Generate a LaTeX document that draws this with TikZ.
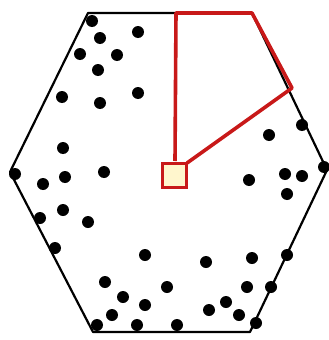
\documentclass[tikz,border=0pt]{standalone}
\definecolor{cellred}{RGB}{200,25,25}
\definecolor{cellfill}{RGB}{255,246,205}

\begin{document}
\begin{tikzpicture}[x=1pt,y=-1pt]
    \useasboundingbox (0,0) rectangle (329,340);
    % hexagon corners
    \coordinate (L) at (10,172);
    \coordinate (TL) at (88,13);
    \coordinate (TR) at (252,13);
    \coordinate (R) at (327,170);
    \coordinate (BR) at (250,332);
    \coordinate (BL) at (93,332);
    \coordinate (P) at (176,13);
    \coordinate (Q) at (292,88);
    \draw[line width=2.2pt, line join=round] (L) -- (TL) -- (TR) -- (R) -- (BR) -- (BL) -- cycle;
    \foreach \x/\y in {
        92/21, 100/38, 138/32, 80/54, 117/55, 98/70, 62/97, 100/103,
        138/93, 63/148, 15/174, 43/184, 65/177, 104/172, 63/210, 40/218,
        88/222, 55/248, 145/255, 105/282, 123/297, 145/305, 112/315,
        137/325, 97/325, 167/287, 177/325, 249/180, 285/174, 302/176,
        287/194, 269/135, 302/125, 324/167, 206/262, 252/258, 287/255,
        247/287, 271/287, 226/302, 209/310, 239/315, 256/323
    }
        \fill (\x,\y) circle (6pt);
    \draw[cellred, line width=3.6pt, line join=round]
        (175,161) -- (P) -- (TR) -- (Q) -- (187,163);
    \node[draw=cellred, fill=cellfill, line width=3pt, minimum size=24pt,
        inner sep=0pt] (cell) at (174,175) {};
\end{tikzpicture}
\end{document}
